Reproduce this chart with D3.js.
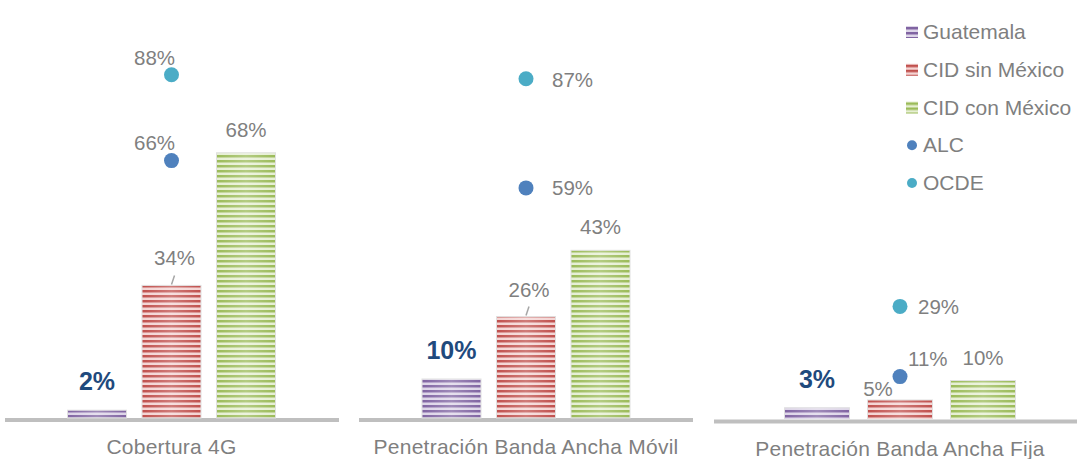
<!DOCTYPE html>
<html>
<head>
<meta charset="utf-8">
<script src="https://cdn.jsdelivr.net/npm/d3@7"></script>
<style>
  body { margin: 0; background: #fff; }
  text { font-family: "Liberation Sans", Arial, sans-serif; }
</style>
</head>
<body>
<svg id="chart" width="1077" height="459"></svg>
<script>
var categories = ['Cobertura 4G', 'Penetración Banda Ancha Móvil', 'Penetración Banda Ancha Fija'];
var seriesNames = ['Guatemala', 'CID sin México', 'CID con México', 'ALC', 'OCDE'];
var guatemala = [2, 10, 3];
var cidSinMexico = [34, 26, 5];
var cidConMexico = [68, 43, 10];
var alc = [66, 59, 11];
var ocde = [88, 87, 29];

var svg = d3.select('#chart');

// one small chart per category
var panels = [
    {x0: 5, x1: 339, base: 418, center: 171.5, step: 74.5, bw: 59},
    {x0: 359, x1: 693, base: 418, center: 526, step: 74.5, bw: 59},
    {x0: 714, x1: 1077, base: 419.5, center: 900, step: 83, bw: 65}
];

var barColors = [
    {dark: '#8064a2', light: '#ddd5e8'},
    {dark: '#c0504d', light: '#f4d4d3'},
    {dark: '#9bbb59', light: '#e6efd3'}
];
var alcColor = '#4f81bd', ocdeColor = '#4bacc6';
var grey = '#7f7f7f', navy = '#1f4a7d';

// striped fills
var defs = svg.append('defs');
barColors.forEach(function(c, i) {
    var p = defs.append('pattern')
        .attr('id', 'stripe' + i)
        .attr('patternUnits', 'userSpaceOnUse')
        .attr('width', 10).attr('height', 5);
    p.append('rect').attr('width', 10).attr('height', 5).attr('fill', c.light);
    p.append('rect').attr('width', 10).attr('height', 2.2).attr('fill', c.dark);
    p.append('rect').attr('y', 2.2).attr('width', 10).attr('height', 0.8)
        .attr('fill', c.dark).attr('opacity', 0.45);
});
var shine = defs.append('linearGradient').attr('id', 'shine');
shine.append('stop').attr('offset', '0%').attr('stop-color', '#fff').attr('stop-opacity', 0);
shine.append('stop').attr('offset', '50%').attr('stop-color', '#fff').attr('stop-opacity', 0.25);
shine.append('stop').attr('offset', '100%').attr('stop-color', '#fff').attr('stop-opacity', 0);

// label offsets per panel (dx, dy, anchor)
var sinLabel = [
    {dx: 3, dy: -20, anchor: 'middle', leader: true},
    {dx: 3, dy: -20, anchor: 'middle', leader: true},
    {dx: -22, dy: -4, anchor: 'middle', leader: false}
];
var alcLabel = [
    {dx: -17, dy: -11, anchor: 'middle'},
    {dx: 26, dy: 7, anchor: 'start'},
    {dx: 8, dy: -11, anchor: 'start'}
];
var ocdeLabel = [
    {dx: -17, dy: -10, anchor: 'middle'},
    {dx: 26, dy: 8, anchor: 'start'},
    {dx: 18, dy: 8, anchor: 'start'}
];

categories.forEach(function(cat, i) {
    var pn = panels[i];
    var g = svg.append('g');

    var x = d3.scaleBand()
        .domain([0, 1, 2])
        .range([pn.center - 1.5 * pn.step, pn.center + 1.5 * pn.step])
        .paddingInner((pn.step - pn.bw) / pn.step)
        .paddingOuter((pn.step - pn.bw) / pn.step / 2);
    var y = d3.scaleLinear().domain([0, 100]).range([pn.base, pn.base - 390]);

    var vals = [guatemala[i], cidSinMexico[i], cidConMexico[i]];

    // baseline
    g.append('line')
        .attr('x1', pn.x0).attr('x2', pn.x1)
        .attr('y1', pn.base + 2).attr('y2', pn.base + 2)
        .attr('stroke', '#bfbfbf').attr('stroke-width', 4);

    var bars = g.selectAll('.bar').data(vals).enter().append('g').attr('class', 'bar');
    bars.append('rect')
        .attr('x', function(d, j) { return x(j); })
        .attr('y', function(d) { return y(d); })
        .attr('width', x.bandwidth())
        .attr('height', function(d) { return y(0) - y(d); })
        .attr('fill', function(d, j) { return 'url(#stripe' + j + ')'; })
        .attr('stroke', '#e0e0e0').attr('stroke-width', 1);
    bars.append('rect')
        .attr('x', function(d, j) { return x(j); })
        .attr('y', function(d) { return y(d); })
        .attr('width', x.bandwidth())
        .attr('height', function(d) { return y(0) - y(d); })
        .attr('fill', 'url(#shine)');

    var xc = function(j) { return x(j) + x.bandwidth() / 2; };

    // Guatemala label
    g.append('text')
        .attr('x', xc(0)).attr('y', y(guatemala[i]) - 20)
        .attr('text-anchor', 'middle')
        .attr('font-size', 25).attr('font-weight', 'bold')
        .attr('fill', navy)
        .text(guatemala[i] + '%');

    // CID sin México label
    var sl = sinLabel[i];
    if (sl.leader) {
        g.append('line')
            .attr('x1', xc(1)).attr('y1', y(cidSinMexico[i]) - 1)
            .attr('x2', xc(1) + 3).attr('y2', y(cidSinMexico[i]) - 10)
            .attr('stroke', '#a6a6a6').attr('stroke-width', 1.5);
    }
    g.append('text')
        .attr('x', xc(1) + sl.dx).attr('y', y(cidSinMexico[i]) + sl.dy)
        .attr('text-anchor', sl.anchor)
        .attr('font-size', 20.5).attr('fill', grey)
        .text(cidSinMexico[i] + '%');

    // CID con México label
    g.append('text')
        .attr('x', xc(2)).attr('y', y(cidConMexico[i]) - 16)
        .attr('text-anchor', 'middle')
        .attr('font-size', 20.5).attr('fill', grey)
        .text(cidConMexico[i] + '%');

    // ALC and OCDE dots
    [[alc, alcColor, alcLabel], [ocde, ocdeColor, ocdeLabel]].forEach(function(s) {
        var v = s[0][i], lab = s[2][i];
        g.append('circle')
            .attr('cx', xc(1)).attr('cy', y(v)).attr('r', 7.5)
            .attr('fill', s[1]);
        g.append('text')
            .attr('x', xc(1) + lab.dx).attr('y', y(v) + lab.dy)
            .attr('text-anchor', lab.anchor)
            .attr('font-size', 20.5).attr('fill', grey)
            .text(v + '%');
    });

    // category label
    g.append('text')
        .attr('x', pn.center).attr('y', pn.base + 36)
        .attr('text-anchor', 'middle')
        .attr('font-size', 21).attr('letter-spacing', 0.25)
        .attr('fill', grey)
        .text(cat);
});

// legend
var legend = svg.append('g').attr('transform', 'translate(912,0)');
var legendY = d3.scalePoint().domain(seriesNames).range([32, 183]);
seriesNames.forEach(function(name, k) {
    var row = legend.append('g').attr('transform', 'translate(0,' + legendY(name) + ')');
    if (k < 3) {
        row.append('rect').attr('x', -6).attr('y', -6).attr('width', 12).attr('height', 12)
            .attr('fill', 'url(#stripe' + k + ')');
    } else {
        row.append('circle').attr('r', 5).attr('fill', k === 3 ? alcColor : ocdeColor);
    }
    row.append('text')
        .attr('x', 11).attr('y', 7)
        .attr('font-size', 21).attr('fill', grey)
        .text(name);
});
</script>
</body>
</html>
